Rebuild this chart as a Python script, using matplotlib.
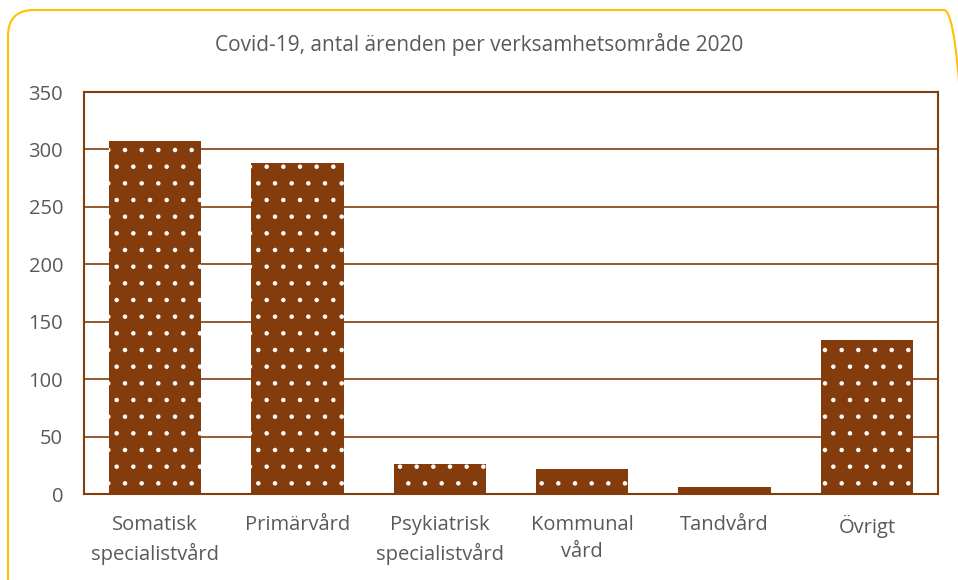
import matplotlib.pyplot as plt
from matplotlib.patches import FancyBboxPatch

# Data
kategorier = ['Somatisk\nspecialistvård', 'Primärvård', 'Psykiatrisk\nspecialistvård',
              'Kommunal\nvård', 'Tandvård', 'Övrigt']
antal = [307, 288, 26, 22, 6, 134]
yticks = [0, 50, 100, 150, 200, 250, 300, 350]

brun = '#843C0C'
text_farg = '#595959'

plt.rcParams['font.family'] = ['Open Sans', 'DejaVu Sans']
plt.rcParams['hatch.linewidth'] = 0.8

fig = plt.figure(figsize=(9.58, 5.8), dpi=100)

# Gul rundad ram runt diagrammet (i pixlar)
ram = FancyBboxPatch((8, -40), 962, 610,
                     boxstyle='round,pad=0,rounding_size=26',
                     transform=None, facecolor='none',
                     edgecolor='#FFC000', linewidth=1.5, zorder=-1)
fig.patches.append(ram)

ax = fig.add_axes([84 / 958, 86 / 580, 854 / 958, 402 / 580])
ax.set_facecolor('none')

x = range(len(kategorier))
ax.bar(x, antal, width=0.65, color=brun, edgecolor='white', linewidth=0,
       hatch='.', zorder=3)

ax.set_ylim(0, 350)
ax.set_xlim(-0.5, len(kategorier) - 0.5)
ax.set_yticks(yticks)
ax.yaxis.grid(True, color=brun, linewidth=1.2, zorder=0)
ax.set_xticks(list(x))
ax.set_xticklabels(kategorier, fontsize=14.5, color=text_farg, linespacing=1.5)
ax.tick_params(axis='y', labelsize=14.5, labelcolor=text_farg, length=0, pad=15)
ax.tick_params(axis='x', length=0, pad=15)

for s in ax.spines.values():
    s.set_color(brun)
    s.set_linewidth(1.5)

fig.text(0.5, 1 - 45 / 580, 'Covid-19, antal ärenden per verksamhetsområde 2020',
         ha='center', va='center', fontsize=15, color=text_farg)

fig.savefig('out.png', dpi=100)
